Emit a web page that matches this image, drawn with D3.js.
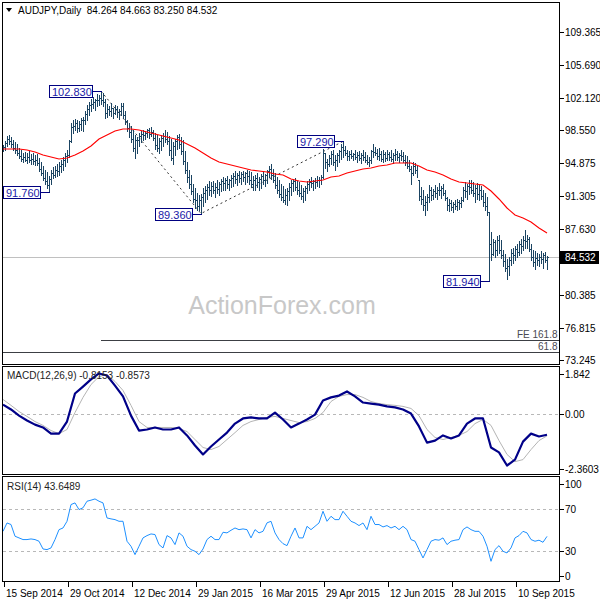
<!DOCTYPE html>
<html><head><meta charset="utf-8">
<script src="https://cdn.jsdelivr.net/npm/d3@7"></script>
<style>
body{margin:0;background:#fff}
svg{display:block}
text{font-family:"Liberation Sans",Arial,sans-serif}
</style>
</head><body>
<svg id="c" width="600" height="600"></svg>
<script>
// ---------- DATA ----------
const symbolTitle = "AUDJPY,Daily  84.264 84.663 83.250 84.532";
const highs = [
96.9,97.3,97.9,98.0,97.8,97.4,97.2,97.0,96.6,96.3,
96.0,96.1,96.0,96.2,95.9,96.0,95.8,95.9,95.5,95.0,
94.6,94.2,93.9,93.5,94.2,94.5,94.6,94.8,95.0,95.2,
95.6,96.0,96.3,97.5,99.3,99.6,99.8,99.6,99.5,99.9,
100.0,100.6,101.3,101.6,102.0,102.2,102.0,102.5,102.4,102.83,
102.6,102.0,101.4,101.2,101.5,101.0,101.3,101.2,100.9,101.5,
101.5,100.6,99.6,99.3,99.0,98.6,98.0,97.8,98.2,98.4,
98.6,98.4,98.7,98.8,98.9,98.6,98.2,98.0,97.7,98.0,
98.2,98.5,98.3,97.9,97.6,97.2,97.6,98.0,98.1,97.8,
97.4,96.2,95.0,94.2,93.6,92.6,92.2,91.6,91.4,91.5,
92.2,92.4,92.6,92.9,92.8,92.9,92.7,93.0,92.8,93.2,
93.4,93.3,93.5,93.2,93.6,93.8,94.0,93.8,94.0,93.9,
94.0,93.9,94.2,94.0,93.9,93.5,93.6,93.8,93.4,93.7,
94.0,93.7,94.2,94.6,94.8,94.3,93.8,93.4,93.0,92.6,
92.4,92.1,92.2,92.7,93.0,93.2,93.3,92.9,92.8,92.5,
92.2,92.4,92.9,93.2,93.4,93.1,93.3,93.5,93.4,93.6,
96.5,96.0,95.4,95.8,96.2,96.4,95.8,96.0,96.4,97.0,
97.29,96.8,96.4,96.2,96.3,96.0,96.3,96.1,96.2,96.0,
96.4,96.1,95.8,95.6,96.4,97.0,96.7,96.5,96.6,96.2,
96.3,96.1,96.4,96.1,96.3,96.0,96.5,96.2,96.0,96.3,
96.1,95.8,95.7,95.3,94.6,95.0,94.9,94.6,93.1,92.3,
91.9,91.3,91.5,92.5,92.3,92.1,92.5,92.3,92.7,92.4,
92.6,92.0,91.2,91.0,90.8,90.6,90.9,91.0,90.8,91.2,
92.3,92.8,92.6,93.0,93.0,92.8,92.5,92.7,92.5,92.4,
92.0,91.6,91.2,89.5,87.3,86.6,86.4,86.9,87.0,86.4,
85.4,84.9,84.4,84.6,85.5,85.6,85.8,86.0,86.3,86.6,
86.9,87.5,87.0,86.8,86.0,85.4,85.2,85.0,84.9,85.2,
85.0,85.1,84.663];
const lows = [
96.2,96.4,96.8,97.0,96.7,96.3,96.0,95.8,95.5,95.1,
95.0,95.1,94.9,95.0,94.8,94.8,94.7,94.7,94.0,93.6,
93.0,92.6,92.2,91.76,92.6,93.3,93.4,93.5,93.6,93.9,
94.2,94.6,95.0,95.6,97.2,98.2,98.5,98.3,98.4,98.6,
98.4,99.2,99.6,100.2,100.6,101.0,100.8,101.2,101.3,101.4,
101.2,99.9,100.0,100.2,100.1,99.9,100.3,100.0,99.8,100.2,
99.9,99.2,98.4,97.8,97.2,96.2,95.5,96.0,96.8,97.2,
97.5,97.6,97.8,97.7,97.9,97.4,96.5,96.2,96.0,96.4,
96.8,97.2,97.0,95.8,95.2,94.8,95.8,96.5,96.6,95.9,
94.8,93.8,92.8,92.2,91.5,90.6,90.0,89.8,89.7,89.36,
90.2,90.6,91.0,91.4,91.3,91.6,91.2,91.6,91.4,91.8,
92.0,91.9,92.2,91.9,92.3,92.4,92.7,92.5,92.8,92.6,
92.9,92.6,92.8,92.6,92.3,91.9,92.0,92.3,92.0,92.2,
92.6,92.4,92.7,93.4,93.2,92.8,92.2,91.6,91.2,90.8,
90.6,90.4,90.3,90.8,91.4,91.8,91.9,91.5,91.3,91.0,
90.6,90.9,91.6,92.0,92.3,92.0,92.2,92.4,92.3,92.6,
93.3,94.4,94.0,94.6,94.8,94.7,94.2,94.6,95.0,95.4,
95.6,95.8,95.3,95.3,95.5,95.2,95.4,95.0,95.2,94.9,
95.3,95.0,94.8,94.6,94.9,95.6,95.8,95.4,95.3,95.1,
95.0,95.1,95.3,95.2,95.1,94.9,95.3,95.2,95.0,95.3,
95.0,94.7,94.4,94.0,92.6,93.6,93.8,93.4,90.9,90.4,
89.8,89.2,89.7,90.6,90.9,91.0,91.2,91.0,91.4,91.1,
91.4,90.9,89.8,89.6,89.8,89.5,89.9,89.8,89.9,90.1,
90.7,91.2,91.0,91.5,91.6,91.3,90.6,91.0,90.9,91.0,
90.2,89.8,89.2,81.94,84.3,84.8,84.6,84.8,85.0,84.5,
83.6,83.0,82.2,82.6,83.7,83.9,84.3,84.6,84.8,85.0,
85.4,85.6,85.6,85.2,84.2,83.6,83.3,83.7,83.6,83.9,
83.4,84.0,83.25];
const opens = [
96.4,96.7,97.1,97.6,97.3,97.0,96.6,96.4,96.0,95.7,
95.4,95.6,95.3,95.6,95.2,95.4,95.1,95.3,94.9,94.3,
93.8,93.3,92.9,92.5,93.2,93.8,93.6,94.2,94.0,94.6,
94.8,95.3,95.7,95.8,97.3,98.9,99.0,99.3,98.8,99.2,
99.6,99.7,100.3,100.9,101.3,101.4,101.6,101.9,101.8,102.1,
101.9,101.6,100.4,100.9,100.6,101.0,100.4,100.9,100.5,100.6,
101.2,100.2,99.5,98.8,98.3,97.6,96.6,97.4,97.5,97.9,
98.1,98.0,98.2,98.5,98.1,98.3,97.7,96.9,96.6,97.3,
97.7,97.9,97.6,97.3,96.3,95.5,96.8,97.3,97.8,97.0,
96.2,95.1,94.2,93.4,92.6,91.8,91.0,90.9,90.2,90.8,
91.2,91.6,91.9,92.3,92.0,92.4,92.0,92.3,92.1,92.6,
92.9,92.7,93.0,92.6,93.1,93.3,93.5,93.2,93.6,93.3,
93.7,93.4,93.8,93.5,93.0,92.6,93.1,93.3,92.8,93.2,
93.5,93.0,93.6,94.0,94.3,93.6,93.0,92.5,92.0,91.5,
91.2,90.9,91.4,91.8,92.3,92.7,92.9,92.3,92.0,91.6,
91.3,91.8,92.2,92.6,92.8,92.7,92.9,92.8,93.1,93.0,
93.4,96.0,95.0,94.8,95.5,95.9,95.0,95.3,95.8,96.2,
96.7,96.3,96.0,95.7,95.9,95.7,95.9,95.6,95.8,95.5,
95.8,95.6,95.2,95.0,95.2,96.2,96.1,96.0,95.7,95.9,
95.4,95.9,95.5,95.9,95.6,95.4,95.8,95.9,95.6,95.8,
95.7,95.3,95.0,94.6,94.3,93.8,94.6,94.2,93.0,91.3,
91.0,90.3,90.6,91.2,92.0,91.4,91.8,91.6,92.0,91.9,
92.2,91.6,91.1,90.3,90.5,90.1,90.4,90.2,90.6,90.5,
90.9,92.0,91.8,92.4,92.3,92.0,91.6,92.2,91.5,92.0,
91.3,90.6,90.2,89.5,86.0,84.9,86.2,85.3,86.5,85.4,
84.8,84.1,83.4,83.6,84.3,85.0,84.8,85.5,85.1,86.0,
85.8,86.5,86.3,86.6,85.5,84.6,84.0,84.5,84.2,84.6,
84.4,84.8,84.264];
const closes = [
96.7,97.1,97.6,97.3,97.0,96.6,96.4,96.0,95.7,95.4,
95.6,95.3,95.6,95.2,95.4,95.1,95.3,94.9,94.3,93.8,
93.3,92.9,92.5,93.2,93.8,93.6,94.2,94.0,94.6,94.8,
95.3,95.7,95.8,97.3,98.9,99.0,99.3,98.8,99.2,99.6,
99.7,100.3,100.9,101.3,101.4,101.6,101.9,101.8,102.1,101.9,
101.6,100.4,100.9,100.6,101.0,100.4,100.9,100.5,100.6,101.2,
100.2,99.5,98.8,98.3,97.6,96.6,97.4,97.5,97.9,98.1,
98.0,98.2,98.5,98.1,98.3,97.7,96.9,96.6,97.3,97.7,
97.9,97.6,97.3,96.3,95.5,96.8,97.3,97.8,97.0,96.2,
95.1,94.2,93.4,92.6,91.8,91.0,90.9,90.2,90.8,91.2,
91.6,91.9,92.3,92.0,92.4,92.0,92.3,92.1,92.6,92.9,
92.7,93.0,92.6,93.1,93.3,93.5,93.2,93.6,93.3,93.7,
93.4,93.8,93.5,93.0,92.6,93.1,93.3,92.8,93.2,93.5,
93.0,93.6,94.0,94.3,93.6,93.0,92.5,92.0,91.5,91.2,
90.9,91.4,91.8,92.3,92.7,92.9,92.3,92.0,91.6,91.3,
91.8,92.2,92.6,92.8,92.7,92.9,92.8,93.1,93.0,93.4,
96.0,95.0,94.8,95.5,95.9,95.0,95.3,95.8,96.2,96.7,
96.3,96.0,95.7,95.9,95.7,95.9,95.6,95.8,95.5,95.8,
95.6,95.2,95.0,95.2,96.2,96.1,96.0,95.7,95.9,95.4,
95.9,95.5,95.9,95.6,95.4,95.8,95.9,95.6,95.8,95.7,
95.3,95.0,94.6,94.3,93.8,94.6,94.2,93.0,91.3,91.0,
90.3,90.6,91.2,92.0,91.4,91.8,91.6,92.0,91.9,92.2,
91.6,91.1,90.3,90.5,90.1,90.4,90.2,90.6,90.5,90.9,
92.0,91.8,92.4,92.3,92.0,91.6,92.2,91.5,92.0,91.3,
90.6,90.2,89.5,86.0,84.9,86.2,85.3,86.5,85.4,84.8,
84.1,83.4,83.6,84.3,85.0,84.8,85.5,85.1,86.0,85.8,
86.5,86.3,86.6,85.5,84.6,84.0,84.5,84.2,84.6,84.4,
84.8,84.264,84.532];

// moving average, one reading every 4 bars
const maStep = 4;
const maValues = [96.46,96.46,96.46,96.35,96.13,95.80,95.58,95.36,95.47,95.80,
96.24,96.79,97.56,98.00,98.44,98.66,98.66,98.55,98.33,98.11,
97.89,97.67,97.45,97.01,96.57,96.02,95.47,95.03,94.81,94.59,
94.37,94.15,94.04,93.93,93.71,93.60,93.16,92.94,92.83,92.94,
93.05,93.38,93.49,93.82,94.04,94.26,94.37,94.59,94.70,94.92,
94.92,94.92,94.59,94.15,93.93,93.60,93.16,92.83,92.72,92.61,
92.50,91.84,90.96,89.97,89.20,88.87,88.43,87.77,87.22];

// MACD(12,26,9), one reading every 4 bars
const macdStep = 4;
const macdMain = [0.36,0.17,-0.07,-0.26,-0.42,-0.53,-0.77,-0.77,-0.30,0.79,
1.06,1.34,1.57,1.49,1.10,0.68,-0.07,-0.65,-0.61,-0.53,
-0.61,-0.61,-0.53,-0.84,-1.23,-1.58,-1.27,-1.00,-0.73,-0.38,
-0.18,-0.14,-0.18,-0.18,0.05,-0.22,-0.53,-0.38,-0.22,-0.03,
0.52,0.64,0.71,0.87,0.68,0.44,0.40,0.36,0.29,0.25,
0.17,0.01,-0.49,-1.12,-1.04,-0.84,-0.96,-0.84,-0.38,-0.18,
-0.18,-1.31,-1.50,-2.01,-1.78,-1.08,-0.77,-0.88,-0.8153];
const macdSignal = [0.56,0.33,0.09,-0.10,-0.30,-0.45,-0.65,-0.77,-0.61,0.05,
0.64,1.14,1.45,1.53,1.26,0.91,0.33,-0.30,-0.53,-0.53,
-0.53,-0.53,-0.57,-0.69,-1.00,-1.31,-1.39,-1.27,-1.00,-0.73,
-0.45,-0.30,-0.22,-0.14,-0.10,-0.18,-0.26,-0.34,-0.30,-0.18,
0.05,0.48,0.68,0.75,0.75,0.64,0.48,0.40,0.36,0.33,
0.29,0.21,-0.07,-0.61,-0.92,-1.00,-0.92,-0.84,-0.69,-0.38,
-0.22,-0.45,-1.04,-1.58,-1.86,-1.78,-1.39,-1.04,-0.8573];

// RSI(14), one reading every 2 bars
const rsiStep = 2;
const rsiValues = [48.5,56.5,55,43.8,42.2,40.6,40.6,41.2,40.6,39,
31.6,31,32.6,40.6,50.1,51.7,58.1,74.1,75.7,69.3,
71,77.3,78.3,79.5,77.3,75.7,61.3,60.4,59.7,58.1,
58.1,39,34.2,26.2,34.2,42.2,44.4,46,45.4,35.8,
32.6,44.4,42.2,35.8,47,43.8,34.2,31,29.4,26.2,
31.6,40.6,43.8,40.6,40.6,47.6,47,49.5,51.7,50.1,
50.8,50.1,42.2,50.1,47,48.5,56.6,58.1,47,40.6,
36.7,34.8,43.8,51.7,42.2,
42.2,53.3,50.1,53.3,56.5,67.7,58.1,62.9,59.7,59.7,
67.7,62.9,58.1,56.5,54,56.5,50.1,62.9,55,55,
52.7,54,51.7,53.3,50.1,53.3,50.1,40.6,39,31,
23,31,39,40.6,40,42.2,35.8,39,40,40.6,
50.1,52.7,50.1,48.5,48.5,43.8,34.2,19.8,31,34.8,
29.4,27.8,32.6,42.2,44.4,48.5,47,40.6,39,40,
38,43.6489];

const priceTicks = [109.365,105.690,102.120,98.550,94.875,91.305,87.630,84.060,80.385,76.815,73.245];
const macdTicks = [1.842,0.00,-2.3603];
const macdTickLabels = ["1.842","0.00","-2.3603"];
const rsiTicks = [100,70,30,0];
const dateTickIdx = [0,32,64,96,128,160,192,224,256];
const dateTickLabels = ["15 Sep 2014","29 Oct 2014","12 Dec 2014","29 Jan 2015","16 Mar 2015","29 Apr 2015","12 Jun 2015","28 Jul 2015","10 Sep 2015"];
const pivotIdx = [49,23,99,170,243];
const pivotVals = [102.830,91.760,89.360,97.290,81.940];
const zigzagIdx = [49,99,170];
const zigzagVals = [102.830,89.360,97.290];
const levelNames = ["FE 161.8","61.8"];
const levelVals = [75.50,74.16];
const levelStartIdx = [49,0];
const lastPrice = 84.532;
const macdLabel = "MACD(12,26,9) -0.8153 -0.8573";
const rsiLabel = "RSI(14) 43.6489";
const watermark = "ActionForex.com";

// ---------- LAYOUT ----------
const svg = d3.select("#c");
const LEFT = 2.5, RIGHT = 559.5;
const P_MAIN = {top:2.5, bottom:364.5};
const P_MACD = {top:366.5, bottom:474.5};
const P_RSI  = {top:476.5, bottom:581.5};
const nBars = highs.length;

const x = d3.scaleLinear().domain([0, nBars-1]).range([3, 547]);
const yP = d3.scaleLinear().domain([72.750, 112.578]).range([P_MAIN.bottom, P_MAIN.top]);
const yM = d3.scaleLinear().domain([-2.3603, 1.842]).range([P_MACD.bottom, P_MACD.top]);
const yR = d3.scaleLinear().domain([0, 100]).range([582, 477.5]);

const defs = svg.append("defs");
function clip(id, p){
  defs.append("clipPath").attr("id", id).append("rect")
    .attr("x", LEFT).attr("y", p.top).attr("width", RIGHT-LEFT).attr("height", p.bottom-p.top);
}
clip("cMain", P_MAIN); clip("cMacd", P_MACD); clip("cRsi", P_RSI);

// ---------- MAIN PANEL ----------
const gMain = svg.append("g").attr("clip-path","url(#cMain)");

gMain.append("text").text(watermark)
  .attr("x", 282).attr("y", 314).attr("text-anchor","middle")
  .attr("font-size", 25).attr("fill", "#c8c8c8");

// horizontal levels
levelVals.forEach((v,k)=>{
  const yy = Math.round(yP(v)) + 0.5;
  gMain.append("line").attr("x1", x(levelStartIdx[k])).attr("x2", RIGHT)
    .attr("y1", yy).attr("y2", yy).attr("stroke", "#3c3f44").attr("stroke-width",1)
    .attr("shape-rendering","crispEdges");
  gMain.append("text").text(levelNames[k]).attr("x", RIGHT-2).attr("y", yy-3)
    .attr("text-anchor","end").attr("font-size", 10).attr("fill","#4a4a52");
});

// last price line
const yLast = Math.round(yP(lastPrice)) + 0.5;
gMain.append("line").attr("x1", LEFT).attr("x2", RIGHT).attr("y1", yLast).attr("y2", yLast)
  .attr("stroke", "#c0c0c0").attr("shape-rendering","crispEdges");

// zigzag dashed
gMain.append("path")
  .attr("d", d3.line().x((d,k)=>x(zigzagIdx[k])).y(d=>yP(d))(zigzagVals))
  .attr("fill","none").attr("stroke","#333").attr("stroke-width",1)
  .attr("stroke-dasharray","2,3");

// OHLC bars
const gBars = gMain.append("g").attr("stroke","#1b4462").attr("stroke-width",1)
  .attr("shape-rendering","crispEdges").attr("fill","none");
highs.forEach((h,i)=>{
  const px = Math.round(x(i)) + 0.5;
  const yh = Math.round(yP(h)), yl = Math.round(yP(lows[i])) + 1;
  const yo = Math.round(yP(opens[i])) + 0.5, yc = Math.round(yP(closes[i])) + 0.5;
  gBars.append("path")
    .attr("d", `M${px},${yh}V${yl}M${px-1.5},${yo}H${px}M${px},${yc}H${px+1.5}`);
});

// moving average
gMain.append("path")
  .attr("d", d3.line().x((d,k)=>x(k*maStep)).y(d=>yP(d))(maValues))
  .attr("fill","none").attr("stroke","#ff0000").attr("stroke-width",1.1);

// pivot labels
pivotIdx.forEach((idx,k)=>{
  const bx = Math.round(x(idx)) + 0.5;
  const by = Math.round(yP(pivotVals[k])) + 0.5;
  const t = gMain.append("text").text(pivotVals[k].toFixed(3))
    .attr("font-size", 11).attr("fill", "#1a1aa8");
  const w = t.node().getComputedTextLength();
  const right = Math.round(bx - 10) + 0.5;
  const left = Math.round(right - w - 4) + 0.5;
  gMain.insert("rect", function(){ return t.node(); })
    .attr("x", left).attr("y", by-6).attr("width", right-left).attr("height", 12)
    .attr("fill","#fff").attr("stroke","#000080").attr("shape-rendering","crispEdges");
  t.attr("x", left+2.5).attr("y", by+4);
  gMain.append("line").attr("x1", right).attr("x2", bx).attr("y1", by).attr("y2", by)
    .attr("stroke","#000080").attr("shape-rendering","crispEdges");
});

// title
svg.append("path").attr("d", "M6,8H12L9,12Z").attr("fill","#000");
svg.append("text").text(symbolTitle).attr("x", 18).attr("y", 14)
  .attr("font-size", 10).attr("fill","#000").attr("xml:space","preserve")
  .style("white-space","pre");

// main axis labels (a label hidden under the last-price tag is not printed)
const gAx = svg.append("g");
priceTicks.forEach(v=>{
  const yy = Math.round(yP(v)) + 0.5;
  gAx.append("line").attr("x1", RIGHT).attr("x2", RIGHT+4).attr("y1", yy).attr("y2", yy)
    .attr("stroke","#000").attr("shape-rendering","crispEdges");
  if (Math.abs(yy - yLast) > 10) {
    gAx.append("text").text(v.toFixed(3)).attr("x", 565).attr("y", yy+3.5)
      .attr("font-size", 10).attr("fill","#000");
  }
});
// last price tag
gAx.append("rect").attr("x", 560).attr("y", yLast-6.5).attr("width", 39).attr("height", 13)
  .attr("fill","#000");
gAx.append("text").text(lastPrice.toFixed(3)).attr("x", 565).attr("y", yLast+3.5)
  .attr("font-size", 10).attr("fill","#fff");

// ---------- MACD PANEL ----------
const gMacd = svg.append("g").attr("clip-path","url(#cMacd)");
const yZero = Math.round(yM(0)) + 0.5;
gMacd.append("line").attr("x1", LEFT).attr("x2", RIGHT).attr("y1", yZero).attr("y2", yZero)
  .attr("stroke","#b8b8b8").attr("stroke-dasharray","3,3").attr("shape-rendering","crispEdges");
gMacd.append("path")
  .attr("d", d3.line().x((d,k)=>x(k*macdStep)).y(d=>yM(d))(macdSignal))
  .attr("fill","none").attr("stroke","#b4b4b4").attr("stroke-width",1);
gMacd.append("path")
  .attr("d", d3.line().x((d,k)=>x(k*macdStep)).y(d=>yM(d))(macdMain))
  .attr("fill","none").attr("stroke","#000088").attr("stroke-width",2.2)
  .attr("stroke-linejoin","round");
svg.append("text").text(macdLabel).attr("x", 7).attr("y", 379)
  .attr("font-size", 10).attr("fill","#222");
macdTicks.forEach((v,k)=>{
  const yy = Math.round(Math.max(P_MACD.top+7.5, Math.min(P_MACD.bottom-6, yM(v)))) + 0.5;
  gAx.append("line").attr("x1", RIGHT).attr("x2", RIGHT+4).attr("y1", yy).attr("y2", yy)
    .attr("stroke","#000").attr("shape-rendering","crispEdges");
  gAx.append("text").text(macdTickLabels[k]).attr("x", 565).attr("y", yy+3.5)
    .attr("font-size", 10).attr("fill","#000");
});

// ---------- RSI PANEL ----------
const gRsi = svg.append("g").attr("clip-path","url(#cRsi)");
[70,30].forEach(v=>{
  const yy = Math.round(yR(v)) + 0.5;
  gRsi.append("line").attr("x1", LEFT).attr("x2", RIGHT).attr("y1", yy).attr("y2", yy)
    .attr("stroke","#b8b8b8").attr("stroke-dasharray","3,3").attr("shape-rendering","crispEdges");
});
gRsi.append("path")
  .attr("d", d3.line().x((d,k)=>x(k*rsiStep)).y(d=>yR(d))(rsiValues))
  .attr("fill","none").attr("stroke","#1e90ff").attr("stroke-width",1);
svg.append("text").text(rsiLabel).attr("x", 7).attr("y", 490)
  .attr("font-size", 10).attr("fill","#222");
rsiTicks.forEach(v=>{
  const yy = Math.round(Math.max(P_RSI.top+7.5, Math.min(P_RSI.bottom-6, yR(v)))) + 0.5;
  gAx.append("line").attr("x1", RIGHT).attr("x2", RIGHT+4).attr("y1", yy).attr("y2", yy)
    .attr("stroke","#000").attr("shape-rendering","crispEdges");
  gAx.append("text").text(String(v)).attr("x", 565).attr("y", yy+3.5)
    .attr("font-size", 10).attr("fill","#000");
});

// ---------- DATE AXIS ----------
const xAxis = d3.axisBottom(x).tickValues(dateTickIdx)
  .tickFormat((d,k)=>dateTickLabels[k]).tickSize(5).tickSizeOuter(0);
const gX = svg.append("g").attr("transform", `translate(0.5,${P_RSI.bottom})`).call(xAxis);
gX.select(".domain").remove();
gX.selectAll(".tick line").attr("stroke","#000").attr("shape-rendering","crispEdges");
gX.selectAll(".tick text").attr("text-anchor","start").attr("x", 2).attr("y", 8)
  .attr("font-size", 10).attr("font-family", "Liberation Sans, Arial, sans-serif").attr("fill","#000");

// ---------- PANEL BORDERS ----------
[P_MAIN, P_MACD, P_RSI].forEach(p=>{
  svg.append("rect").attr("x", LEFT).attr("y", p.top).attr("width", RIGHT-LEFT).attr("height", p.bottom-p.top)
    .attr("fill","none").attr("stroke","#000").attr("shape-rendering","crispEdges");
});
</script>
</body></html>
